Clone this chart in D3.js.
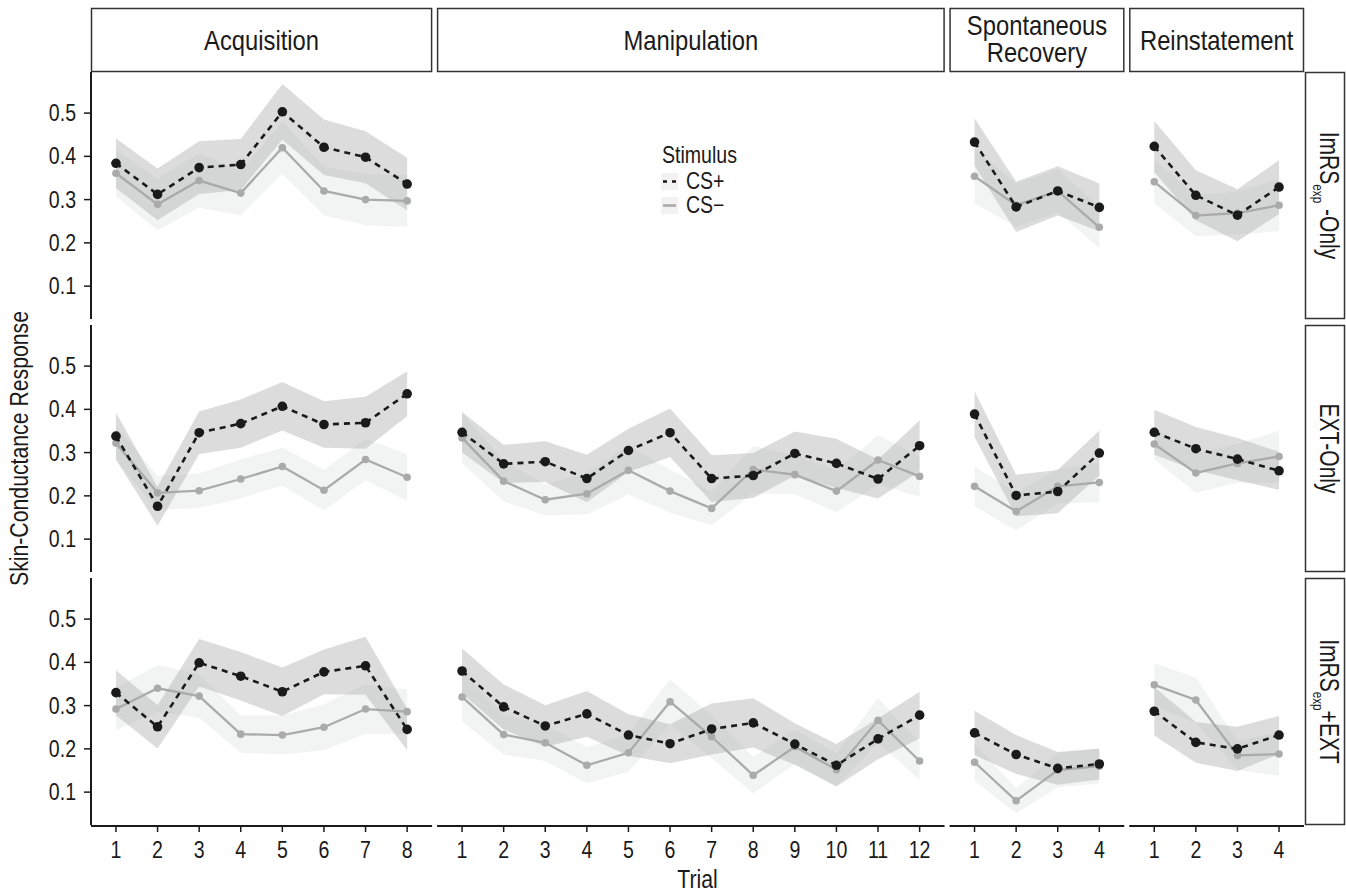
<!DOCTYPE html>
<html>
<head>
<meta charset="utf-8">
<script src="https://cdn.jsdelivr.net/npm/d3@7"></script>
<style>
    body { margin: 0; background: #fff; }
    svg text { font-family: "Liberation Sans", Arial, sans-serif; fill: #1a1a1a; }
</style>
</head>
<body>
<svg id="chart" width="1346" height="893"></svg>
<script>
// facets
const phases = ["Acquisition", "Manipulation", "Spontaneous Recovery", "Reinstatement"];
const trialCounts = [8, 12, 4, 4];
const groups = ["ImRS-Only", "EXT-Only", "ImRS+EXT"];
const yTicks = [0.1, 0.2, 0.3, 0.4, 0.5];

// ImRSexp-Only
const imrsAcqPlus = [0.384, 0.312, 0.374, 0.381, 0.503, 0.421, 0.398, 0.336];
const imrsAcqPlusSe = [0.057, 0.060, 0.061, 0.059, 0.064, 0.064, 0.060, 0.061];
const imrsAcqMinus = [0.361, 0.289, 0.344, 0.315, 0.420, 0.320, 0.300, 0.297];
const imrsAcqMinusSe = [0.054, 0.060, 0.063, 0.051, 0.061, 0.056, 0.059, 0.060];
const imrsSpontPlus = [0.433, 0.283, 0.320, 0.282];
const imrsSpontPlusSe = [0.055, 0.058, 0.057, 0.055];
const imrsSpontMinus = [0.354, 0.287, 0.320, 0.236];
const imrsSpontMinusSe = [0.063, 0.050, 0.050, 0.048];
const imrsReinPlus = [0.423, 0.310, 0.264, 0.329];
const imrsReinPlusSe = [0.059, 0.058, 0.060, 0.062];
const imrsReinMinus = [0.341, 0.263, 0.269, 0.287];
const imrsReinMinusSe = [0.050, 0.047, 0.050, 0.060];

// EXT-Only
const extAcqPlus = [0.338, 0.176, 0.346, 0.367, 0.407, 0.365, 0.369, 0.436];
const extAcqPlusSe = [0.054, 0.045, 0.049, 0.056, 0.056, 0.054, 0.060, 0.052];
const extAcqMinus = [0.322, 0.207, 0.212, 0.239, 0.268, 0.213, 0.284, 0.243];
const extAcqMinusSe = [0.040, 0.039, 0.040, 0.045, 0.044, 0.047, 0.048, 0.054];
const extManPlus = [0.347, 0.274, 0.279, 0.240, 0.305, 0.346, 0.240, 0.247, 0.298, 0.275, 0.239, 0.316];
const extManPlusSe = [0.047, 0.044, 0.047, 0.055, 0.050, 0.056, 0.054, 0.052, 0.051, 0.057, 0.045, 0.059];
const extManMinus = [0.334, 0.234, 0.191, 0.205, 0.259, 0.211, 0.171, 0.261, 0.249, 0.211, 0.283, 0.245];
const extManMinusSe = [0.058, 0.047, 0.036, 0.048, 0.056, 0.050, 0.039, 0.055, 0.045, 0.049, 0.057, 0.047];
const extSpontPlus = [0.389, 0.201, 0.210, 0.299];
const extSpontPlusSe = [0.053, 0.048, 0.050, 0.052];
const extSpontMinus = [0.222, 0.164, 0.222, 0.231];
const extSpontMinusSe = [0.046, 0.044, 0.040, 0.046];
const extReinPlus = [0.347, 0.309, 0.285, 0.258];
const extReinPlusSe = [0.052, 0.050, 0.049, 0.044];
const extReinMinus = [0.320, 0.253, 0.275, 0.291];
const extReinMinusSe = [0.036, 0.045, 0.045, 0.060];

// ImRSexp+EXT
const bothAcqPlus = [0.330, 0.251, 0.399, 0.368, 0.332, 0.378, 0.392, 0.245];
const bothAcqPlusSe = [0.052, 0.050, 0.055, 0.056, 0.056, 0.052, 0.067, 0.048];
const bothAcqMinus = [0.292, 0.340, 0.322, 0.234, 0.232, 0.250, 0.292, 0.286];
const bothAcqMinusSe = [0.049, 0.054, 0.050, 0.043, 0.045, 0.053, 0.057, 0.051];
const bothManPlus = [0.380, 0.297, 0.253, 0.281, 0.232, 0.212, 0.246, 0.260, 0.211, 0.162, 0.223, 0.278];
const bothManPlusSe = [0.052, 0.052, 0.048, 0.053, 0.048, 0.045, 0.059, 0.057, 0.048, 0.049, 0.047, 0.054];
const bothManMinus = [0.320, 0.233, 0.214, 0.162, 0.191, 0.309, 0.228, 0.139, 0.205, 0.152, 0.266, 0.172];
const bothManMinusSe = [0.057, 0.046, 0.042, 0.042, 0.044, 0.052, 0.050, 0.042, 0.040, 0.038, 0.051, 0.044];
const bothSpontPlus = [0.237, 0.187, 0.155, 0.165];
const bothSpontPlusSe = [0.051, 0.045, 0.038, 0.036];
const bothSpontMinus = [0.169, 0.080, 0.151, 0.160];
const bothSpontMinusSe = [0.043, 0.029, 0.040, 0.040];
const bothReinPlus = [0.287, 0.215, 0.200, 0.232];
const bothReinPlusSe = [0.056, 0.047, 0.051, 0.044];
const bothReinMinus = [0.348, 0.313, 0.185, 0.188];
const bothReinMinusSe = [0.050, 0.052, 0.034, 0.050];

// rows x columns, null = no data in that panel
const panels = [
    [[imrsAcqPlus, imrsAcqPlusSe, imrsAcqMinus, imrsAcqMinusSe], null,
     [imrsSpontPlus, imrsSpontPlusSe, imrsSpontMinus, imrsSpontMinusSe],
     [imrsReinPlus, imrsReinPlusSe, imrsReinMinus, imrsReinMinusSe]],
    [[extAcqPlus, extAcqPlusSe, extAcqMinus, extAcqMinusSe],
     [extManPlus, extManPlusSe, extManMinus, extManMinusSe],
     [extSpontPlus, extSpontPlusSe, extSpontMinus, extSpontMinusSe],
     [extReinPlus, extReinPlusSe, extReinMinus, extReinMinusSe]],
    [[bothAcqPlus, bothAcqPlusSe, bothAcqMinus, bothAcqMinusSe],
     [bothManPlus, bothManPlusSe, bothManMinus, bothManMinusSe],
     [bothSpontPlus, bothSpontPlusSe, bothSpontMinus, bothSpontMinusSe],
     [bothReinPlus, bothReinPlusSe, bothReinMinus, bothReinMinusSe]]
];

const rowLabels = [["ImRS", "exp", " -Only"], ["EXT-Only"], ["ImRS", "exp", "+EXT"]];

const plotLeft = 91, plotRight = 1304, colGap = 5;
const plotTop = 72, rowH = 247, rowGap = 6;
const stripTop = 8;
const padUnits = 0.6;
const totalUnits = d3.sum(trialCounts, n => n - 1 + 2 * padUnits);
const step = (plotRight - plotLeft - colGap * (phases.length - 1)) / totalUnits;

const svg = d3.select("#chart");
const ink = "#1a1a1a";

// squeeze text horizontally to get a condensed face
function narrow(sel, k) {
    sel.each(function () {
        const t = d3.select(this);
        const tr = t.attr("transform");
        if (tr) {
            t.attr("transform", `${tr} scale(${k},1)`);
        } else {
            const x = +t.attr("x") || 0;
            t.attr("transform", `translate(${x},0) scale(${k},1) translate(${-x},0)`);
        }
    });
}

// column extents
let cols = [];
let cx = plotLeft;
trialCounts.forEach((n, i) => {
    const w = (n - 1 + 2 * padUnits) * step;
    cols.push({ x0: cx, x1: cx + w, n: n, name: phases[i] });
    cx += w + colGap;
});

const rowTop = r => plotTop + r * (rowH + rowGap);

const yScaleFor = r => d3.scaleLinear()
    .domain([0.024, 0.595])
    .range([rowTop(r) + rowH, rowTop(r)]);

// top strips
cols.forEach(c => {
    svg.append("rect")
        .attr("x", c.x0 + 0.5).attr("y", stripTop + 0.5)
        .attr("width", c.x1 - c.x0 - 1).attr("height", plotTop - stripTop - 1)
        .attr("fill", "#fff").attr("stroke", "#333").attr("stroke-width", 1.5);
    const words = c.name === "Spontaneous Recovery" ? ["Spontaneous", "Recovery"] : [c.name];
    const t = svg.append("text")
        .attr("x", (c.x0 + c.x1) / 2)
        .attr("text-anchor", "middle")
        .style("font-size", "28px");
    if (words.length === 1) {
        t.attr("y", (stripTop + plotTop) / 2 + 10).text(words[0]);
    } else {
        t.attr("y", 35);
        t.append("tspan").attr("x", (c.x0 + c.x1) / 2).text(words[0]);
        t.append("tspan").attr("x", (c.x0 + c.x1) / 2).attr("dy", 27).text(words[1]);
    }
});

// right strips
groups.forEach((g, r) => {
    const y0 = rowTop(r);
    svg.append("rect")
        .attr("x", plotRight + 1.5).attr("y", y0 + 0.5)
        .attr("width", 1345 - plotRight - 2).attr("height", rowH - 1)
        .attr("fill", "#fff").attr("stroke", "#333").attr("stroke-width", 1.5);
    const lab = rowLabels[r];
    const t = svg.append("text").attr("class", "rstrip")
        .attr("transform", `translate(${plotRight + 16}, ${y0 + rowH / 2}) rotate(90)`)
        .attr("text-anchor", "middle")
        .style("font-size", "27px");
    if (lab.length === 1) {
        t.text(lab[0]);
    } else {
        t.append("tspan").text(lab[0]);
        t.append("tspan").attr("dy", 7).style("font-size", "15px").text(lab[1]);
        t.append("tspan").attr("dy", -7).text(lab[2]);
    }
});

const bandPlus = "#a8a8a8", bandMinus = "#d5dada";

groups.forEach((g, r) => {
    const y = yScaleFor(r);

    // y axis on first column
    const ya = svg.append("g").attr("transform", `translate(${plotLeft}, 0)`);
    ya.append("line").attr("x1", 0).attr("x2", 0)
        .attr("y1", rowTop(r)).attr("y2", rowTop(r) + rowH)
        .attr("stroke", ink).attr("stroke-width", 2);
    ya.selectAll(".tk").data(yTicks).join("line")
        .attr("x1", -7).attr("x2", 0)
        .attr("y1", d => y(d)).attr("y2", d => y(d))
        .attr("stroke", ink).attr("stroke-width", 1.5);
    ya.selectAll(".tl").data(yTicks).join("text")
        .attr("x", -15).attr("y", d => y(d) + 8)
        .attr("text-anchor", "end")
        .style("font-size", "23px")
        .text(d => d3.format(".1f")(d));

    cols.forEach((c, ci) => {
        const x = d3.scalePoint()
            .domain(d3.range(1, c.n + 1))
            .range([c.x0, c.x1])
            .padding(padUnits);

        // x axis on the bottom row
        if (r === groups.length - 1) {
            const yb = rowTop(r) + rowH + 1;
            const xa = svg.append("g");
            xa.append("line").attr("x1", c.x0).attr("x2", c.x1)
                .attr("y1", yb).attr("y2", yb)
                .attr("stroke", ink).attr("stroke-width", 2);
            xa.selectAll("line.tk").data(x.domain()).join("line").attr("class", "tk")
                .attr("x1", d => x(d)).attr("x2", d => x(d))
                .attr("y1", yb).attr("y2", yb + 6)
                .attr("stroke", ink).attr("stroke-width", 1.5);
            xa.selectAll("text").data(x.domain()).join("text")
                .attr("x", d => x(d)).attr("y", yb + 32)
                .attr("text-anchor", "middle")
                .style("font-size", "23px")
                .text(d => d);
        }

        const p = panels[r][ci];
        if (!p) return;
        const rows = (m, se) => m.map((v, i) => ({ t: i + 1, m: v, se: se[i] }));
        const plus = rows(p[0], p[1]);
        const minus = rows(p[2], p[3]);

        const area = d3.area()
            .x(d => x(d.t))
            .y0(d => y(d.m - d.se))
            .y1(d => y(d.m + d.se));
        const line = d3.line().x(d => x(d.t)).y(d => y(d.m));

        const g = svg.append("g");
        g.append("path").attr("d", area(minus)).attr("fill", bandMinus).attr("opacity", 0.3);
        g.append("path").attr("d", area(plus)).attr("fill", bandPlus).attr("opacity", 0.4);
        g.append("path").attr("d", line(minus))
            .attr("fill", "none").attr("stroke", "#aaaaaa").attr("stroke-width", 2.3);
        g.selectAll(".pm").data(minus).join("circle")
            .attr("cx", d => x(d.t)).attr("cy", d => y(d.m)).attr("r", 3.8)
            .attr("fill", "#aaaaaa");
        g.append("path").attr("d", line(plus))
            .attr("fill", "none").attr("stroke", ink).attr("stroke-width", 2.6)
            .attr("stroke-dasharray", "6,5");
        g.selectAll(".pp").data(plus).join("circle")
            .attr("cx", d => x(d.t)).attr("cy", d => y(d.m)).attr("r", 4.8)
            .attr("fill", ink);
    });
});

// axis titles
svg.append("text")
    .attr("transform", `translate(28, ${(plotTop + rowTop(2) + rowH) / 2}) rotate(-90)`)
    .attr("text-anchor", "middle")
    .style("font-size", "25px")
    .text("Skin-Conductance Response");
svg.append("text")
    .attr("x", (plotLeft + plotRight) / 2).attr("y", 888)
    .attr("text-anchor", "middle")
    .style("font-size", "25px")
    .text("Trial");

// legend inside the empty Manipulation panel
const lg = svg.append("g").attr("transform", "translate(661, 147)");
lg.append("text").attr("x", 1).attr("y", 16).style("font-size", "23px").text("Stimulus");
const keys = [
    { label: "CS+", color: ink, dash: "4,5", width: 2.6 },
    { label: "CS\u2212", color: "#aaaaaa", dash: null, width: 2.6 }
];
keys.forEach((k, i) => {
    const ky = 26 + i * 24;
    lg.append("rect").attr("x", 0).attr("y", ky).attr("width", 17).attr("height", 17)
        .attr("fill", "#f2f2f2");
    lg.append("line").attr("x1", 2).attr("x2", 15)
        .attr("y1", ky + 8.5).attr("y2", ky + 8.5)
        .attr("stroke", k.color).attr("stroke-width", k.width)
        .attr("stroke-dasharray", k.dash);
    lg.append("text").attr("x", 25).attr("y", ky + 16).style("font-size", "23px").text(k.label);
});

narrow(svg.selectAll("text:not(.rstrip)"), 0.85);
narrow(svg.selectAll("text.rstrip"), 0.78);
</script>
</body>
</html>
